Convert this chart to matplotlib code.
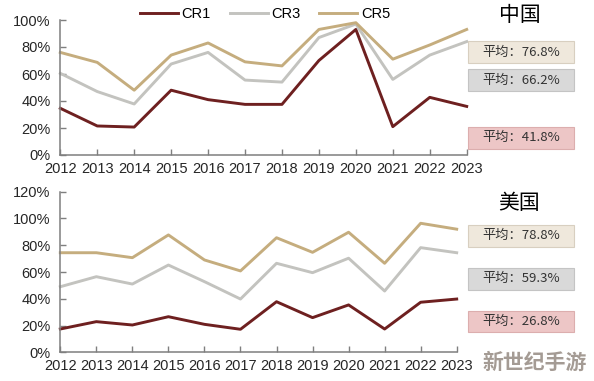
import matplotlib.pyplot as plt
from matplotlib.ticker import FuncFormatter

plt.rcParams['font.family'] = ['Liberation Sans', 'Noto Sans CJK SC', 'DejaVu Sans']

# --- DATA ---
years = [2012, 2013, 2014, 2015, 2016, 2017, 2018, 2019, 2020, 2021, 2022, 2023]

cn_cr1 = [34.6, 21.5, 20.7, 48, 41, 37.5, 37.5, 70, 93, 21, 42.7, 36]
cn_cr3 = [60.5, 47, 37.8, 67.4, 76, 55.5, 54, 87, 97, 56, 74, 84]
cn_cr5 = [76, 68.6, 48, 74, 83, 69, 66, 93, 98, 71, 81.5, 93]

us_cr1 = [17.4, 22.9, 20.4, 26.6, 20.9, 17.2, 37.8, 25.9, 35.4, 17.4, 37.4, 39.8]
us_cr3 = [49, 56.5, 51, 65.2, 52.8, 39.8, 66.5, 59.5, 70.3, 45.8, 78.2, 74.4]
us_cr5 = [74.4, 74.4, 70.7, 87.7, 69, 60.8, 85.6, 74.7, 89.7, 66.5, 96.4, 92]

series_names = ['CR1', 'CR3', 'CR5']
cn_avg = ['76.8%', '66.2%', '41.8%']
us_avg = ['78.8%', '59.3%', '26.8%']

colors = {'CR1': '#6e2020', 'CR3': '#c3c3bf', 'CR5': '#c5ad7e'}
box_colors = ['#efe8dc', '#d9d9d9', '#edc6c6']
box_edges = ['#d8cfc0', '#c4c4c4', '#dcaeae']

W, H = 594, 381
fig = plt.figure(figsize=(W / 100, H / 100), dpi=100)

def px_axes(x0, y0, x1, y1):
    return fig.add_axes([x0 / W, 1 - y1 / H, (x1 - x0) / W, (y1 - y0) / H])

ax1 = px_axes(60.3, 20, 466.7, 155)
ax2 = px_axes(60.3, 191.7, 456.7, 352.3)

pct = FuncFormatter(lambda v, p: f'{v:.0f}%')

def style(ax, ymax, step):
    for s in ['top', 'right']:
        ax.spines[s].set_visible(False)
    for s in ['left', 'bottom']:
        ax.spines[s].set_color('#7f7f7f')
        ax.spines[s].set_linewidth(1.1)
    ax.set_xlim(years[0], years[-1])
    ax.set_ylim(0, ymax)
    ax.set_yticks(range(0, ymax + 1, step))
    ax.set_xticks(years)
    ax.yaxis.set_major_formatter(pct)
    ax.tick_params(direction='in', length=4, color='#7f7f7f', labelsize=10.5,
                   labelcolor='#262626', width=1)
    ax.tick_params(axis='x', pad=5)
    ax.tick_params(axis='y', pad=7)

lines = []
for data, name in zip([cn_cr1, cn_cr3, cn_cr5], series_names):
    l, = ax1.plot(years, data, color=colors[name], lw=2.1, label=name, clip_on=False)
    lines.append(l)
for data, name in zip([us_cr1, us_cr3, us_cr5], series_names):
    ax2.plot(years, data, color=colors[name], lw=2.1, clip_on=False)

style(ax1, 100, 20)
style(ax2, 120, 20)

fig.legend(handles=lines, loc='center', bbox_to_anchor=(265 / W, 1 - 14 / H),
           ncol=3, frameon=False, fontsize=10.5, handlelength=2.6,
           handletextpad=0.25, columnspacing=1.3)

# country titles
fig.text(520 / W, 1 - 15 / H, '中国', fontsize=15, ha='center', va='center',
         family=['Noto Sans CJK SC'])
fig.text(519 / W, 1 - 203 / H, '美国', fontsize=15, ha='center', va='center',
         family=['Noto Sans CJK SC'])

# average boxes (top y, bottom y in pixels)
cn_boxes = [(41, 63.3), (69, 91), (126.7, 149)]
us_boxes = [(225, 246.7), (267.7, 290), (311, 331.7)]
for boxes, avgs in [(cn_boxes, cn_avg), (us_boxes, us_avg)]:
    for (y0, y1), txt, fc, ec in zip(boxes, avgs, box_colors, box_edges):
        rect = plt.Rectangle((468 / W, 1 - y1 / H), 106 / W, (y1 - y0) / H,
                             transform=fig.transFigure, facecolor=fc,
                             edgecolor=ec, lw=0.8)
        fig.add_artist(rect)
        fig.text(521 / W, 1 - (y0 + y1) / 2 / H, '平均：' + txt, fontsize=9.5,
                 ha='center', va='center', color='#333333',
                 family=['Noto Sans CJK SC', 'DejaVu Sans'])

# watermark
fig.text(535 / W, 1 - 362 / H, '新世纪手游', fontsize=15, ha='center', va='center',
         color='#8e8279', alpha=0.8, weight='bold',
         family=['Noto Sans CJK SC'])

fig.savefig('out.png', dpi=100)
